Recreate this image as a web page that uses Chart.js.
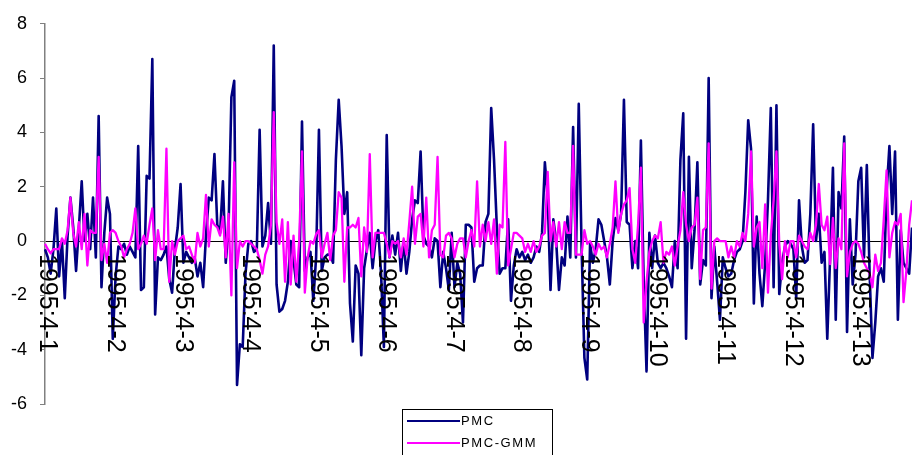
<!DOCTYPE html>
<html>
<head>
<meta charset="utf-8">
<script src="https://cdn.jsdelivr.net/npm/chart.js@4"></script>
<style>
  html, body { margin: 0; padding: 0; background: #fff; }
  canvas { display: block; }
</style>
</head>
<body>
<canvas id="chart" width="912" height="455"></canvas>
<script>
// day labels on the category axis, one every 24 points
const days = ["1995:4-1", "1995:4-2", "1995:4-3", "1995:4-4", "1995:4-5", "1995:4-6", "1995:4-7",
	"1995:4-8", "1995:4-9", "1995:4-10", "1995:4-11", "1995:4-12", "1995:4-13"];
const pointsPerDay = 24;
const yTicks = [-6, -4, -2, 0, 2, 4, 6, 8];

const pmc = [
	-0.3, -0.6, -1.2, -0.3, 1.2, -1.3, 0.0, -2.1, 0.2, 1.6, 0.5, -1.1, 0.5, 2.2, 0.0, 1.0, -0.3, 1.6, -0.6, 4.6, -1.7, 0.3, 1.6, 1.0,
	-3.6, -1.3, -0.2, -0.3, -0.1, -0.5, -0.2, -0.4, -0.6, 3.5, -1.8, -1.7, 2.4, 2.3, 6.7, -2.7, -0.6, -0.7, -0.5, -0.2, -1.4, -1.9, -0.3, 0.5,
	2.1, -0.8, -0.4, -0.6, -0.8, -0.6, -1.3, -0.8, -1.7, 0.2, 1.6, 1.5, 3.2, 0.6, 0.3, 2.2, -0.8, 0.5, 5.3, 5.9, -5.3, -3.8, -3.9, -1.2,
	-0.1, 0.0, -0.4, -0.3, 4.1, -0.2, 0.2, 1.4, -0.1, 7.2, -1.6, -2.6, -2.5, -2.2, -1.5, 0.0, -0.7, -1.6, -1.7, 4.4, -1.1, -0.6, -0.4, -2.2,
	-0.6, 4.1, -1.1, -0.6, -0.5, -0.5, -0.8, 3.0, 5.2, 3.5, 1.0, 1.8, -2.3, -3.7, -0.9, -1.2, -4.2, -1.0, -0.3, 0.3, -1.0, 0.0, 0.4, -1.2,
	-3.9, 3.9, -0.6, 0.2, -0.5, 0.3, -1.1, 0.0, -1.2, -0.4, 0.8, 1.5, 1.4, 3.3, 0.2, -0.1, -0.2, -0.6, 0.1, 0.0, -1.7, -0.4, -1.0, -1.8,
	0.3, -1.7, -0.8, -1.2, -3.0, 0.6, 0.6, 0.5, -1.5, -1.0, -0.9, -0.9, 0.7, 1.0, 4.9, 3.0, 0.5, -1.2, -1.0, -1.0, 0.8, -2.2, -0.9, -0.3,
	-0.6, -0.4, -0.7, -0.5, -0.8, -0.6, -0.2, -0.4, 0.3, 2.9, 1.6, -1.8, 0.8, 0.0, -1.8, -0.6, -0.9, 0.9, -0.6, 4.2, -0.6, 5.05, -0.2, -4.3,
	-5.1, -0.1, -0.8, -0.3, 0.8, 0.6, 0.0, -0.6, -1.6, 0.0, 0.85, 0.4, 1.0, 5.2, 0.7, 0.6, -1.0, 0.0, -1.0, 3.7, -1.5, -4.8, 0.3, -1.0,
	0.2, -0.8, -1.0, -0.8, -1.0, -1.3, -1.7, 0.0, -1.0, 3.0, 4.7, -3.6, 3.1, -1.0, 0.4, 2.9, -1.6, -0.7, -0.9, 6.0, -2.1, -0.2, -1.5, -2.9,
	-0.6, -1.0, -1.3, -1.2, -0.7, -0.4, -0.3, 0.0, 1.8, 4.45, 3.4, -2.3, 0.9, -1.2, -2.4, -0.8, 1.5, 4.9, -1.7, 5.0, -1.95, -0.8, -0.2, 0.0,
	-0.1, -0.3, -2.1, 1.5, -0.2, -0.8, -0.7, 1.0, 4.3, 0.0, 1.0, -0.8, -0.4, -3.6, -0.6, 2.7, -2.9, 1.8, 1.2, 3.85, -3.35, 0.8, -1.6, -0.5,
	2.2, 2.7, -0.6, 2.8, -1.2, -4.3, -3.0, -1.3, -1.0, -1.5, 1.8, 3.5, 1.0, 3.3, -2.9, 0.4, -0.8, -1.0, -1.2, 0.5
];

const pmcGmm = [
	-0.1, -0.3, -0.45, -0.3, -0.3, -0.3, 0.1, -0.1, 0.4, 1.6, 0.3, -0.2, 0.7, -0.3, 1.0, -0.9, 0.4, 0.3, 0.3, 3.1, -0.7, -0.1, -0.8, 0.3,
	0.4, 0.3, 0.0, -0.2, -0.6, -0.3, -0.1, 0.3, 1.2, -0.3, -0.1, 0.2, -0.1, 0.6, 1.2, -0.7, 0.4, -0.3, -0.3, 3.4, -1.5, 0.0, -0.5, 0.0,
	0.1, 0.2, -0.3, -0.2, -0.5, -0.8, 0.3, -0.2, 0.1, 1.7, -0.2, 0.8, 0.6, 0.5, 0.2, 0.9, -0.6, 1.0, -2.0, 2.9, -1.0, 0.0, -0.2, 0.0,
	0.0, -0.1, -0.2, -0.3, -0.7, -1.2, -0.5, -0.2, 0.6, 4.75, 0.7, -0.1, 0.8, -1.5, 0.7, -1.6, 0.2, -1.5, 0.0, 3.3, -1.9, -0.6, 0.0, -0.1,
	0.25, 0.4, -0.6, -0.1, 0.3, -0.7, 0.2, 0.4, 1.8, 1.6, -1.5, 0.5, 0.5, 0.6, 0.5, 0.85, -1.3, 0.5, -0.4, 3.2, -0.6, 0.3, 0.3, 0.3,
	0.3, -0.1, -0.6, 0.0, -0.1, 0.0, -0.6, 0.1, -0.5, 0.7, 2.0, -0.1, 0.9, 1.0, -0.2, 1.6, -0.6, 0.4, 0.6, 3.1, -0.5, -0.6, 0.2, 0.3,
	0.1, -0.6, -0.1, 0.1, 0.1, -0.6, 0.0, 0.4, -0.2, 2.2, -0.2, 0.6, 0.0, 0.7, -0.1, 0.8, -1.2, 0.6, 0.5, 3.65, -0.9, -0.3, 0.3, 0.3,
	0.2, 0.1, -0.4, -0.1, -0.4, 0.0, -0.4, -0.2, 0.2, 0.3, 2.55, 0.0, 0.7, -0.2, 0.7, -0.3, 0.7, 0.3, 0.3, 3.5, -0.5, -0.5, -0.5, 0.4,
	-0.1, 0.0, -0.2, -0.5, -0.1, -0.3, -0.2, -0.6, -0.1, 0.5, 2.2, 0.3, 1.0, 1.35, 1.5, 1.95, -0.3, -0.8, 0.6, 2.7, -3.0, -1.5, -0.4, 0.0,
	0.2, 0.1, 0.7, -0.8, -0.4, -0.5, -0.2, -0.9, -0.2, 0.4, 1.8, 0.6, 0.0, 0.5, 0.6, 1.6, -1.4, 0.4, 0.5, 3.6, -1.75, 0.0, 0.1, 0.0,
	0.0, 0.0, -0.6, -0.2, -0.6, 0.0, -0.2, 0.3, 0.0, 1.0, 3.3, -0.2, 0.5, 0.7, -1.0, 1.35, -1.9, 0.2, 1.5, 3.3, -0.1, -1.4, 0.0, -0.6,
	0.0, 0.0, -0.6, 0.2, 0.0, -0.2, -0.3, 0.3, 0.0, 0.6, 2.1, 0.6, 0.4, 0.9, -0.85, 0.85, -1.0, 0.1, -0.3, 3.6, -1.3, -0.4, -0.1, 0.0,
	-0.1, -0.4, -0.8, -1.0, -1.2, -1.7, -0.5, -1.1, -0.8, 0.8, 2.6, -0.6, 0.3, 0.7, 0.6, 1.0, -2.25, -1.1, 0.6, 1.5
];

const labels = pmc.map((_, i) => (i % pointsPerDay === 0 ? days[i / pointsPerDay] : ""));

// rotated day labels hanging under the zero line
const dayLabels = {
	id: "dayLabels",
	afterDatasetsDraw(chart) {
		const { ctx, scales: { x, y } } = chart;
		const zeroY = y.getPixelForValue(0);
		ctx.save();
		ctx.font = "25px 'Liberation Sans', Arial, sans-serif";
		ctx.fillStyle = "#000";
		ctx.textAlign = "left";
		ctx.textBaseline = "alphabetic";
		chart.data.labels.forEach((lab, i) => {
			if (!lab) return;
			ctx.save();
			ctx.translate(x.getPixelForValue(i) - 5, zeroY + 13);
			ctx.rotate(Math.PI / 2);
			ctx.fillText(lab, 0, 0);
			ctx.restore();
		});
		ctx.restore();
	},
};

// boxed legend below the plot, cut by the bottom edge
const boxLegend = {
	id: "boxLegend",
	afterDraw(chart) {
		const { ctx } = chart;
		ctx.save();
		ctx.strokeStyle = "#000";
		ctx.lineWidth = 1;
		ctx.strokeRect(402.5, 409.5, 150, 50);
		ctx.font = "13px 'Liberation Sans', Arial, sans-serif";
		ctx.letterSpacing = "1.6px";
		ctx.textBaseline = "middle";
		ctx.fillStyle = "#000";
		chart.data.datasets.forEach((ds, i) => {
			const yy = 421 + i * 22;
			ctx.strokeStyle = ds.borderColor;
			ctx.lineWidth = 2;
			ctx.beginPath();
			ctx.moveTo(407, yy);
			ctx.lineTo(460, yy);
			ctx.stroke();
			ctx.fillText(ds.label, 461, yy);
		});
		ctx.restore();
	},
};

new Chart(document.getElementById("chart").getContext("2d"), {
	type: "line",
	data: {
		labels: labels,
		datasets: [
			{
				label: "PMC",
				data: pmc,
				borderColor: "#000080",
				borderWidth: 2.6,
				order: 1,
			},
			{
				label: "PMC-GMM",
				data: pmcGmm,
				borderColor: "#FF00FF",
				borderWidth: 2.3,
				order: 0,
			},
		],
	},
	options: {
		responsive: false,
		animation: false,
		devicePixelRatio: 1,
		layout: { padding: { top: 21, bottom: 51, left: 0, right: 0 } },
		elements: {
			point: { radius: 0 },
			line: { tension: 0, borderJoinStyle: "round", fill: false },
		},
		scales: {
			x: {
				display: false,
				offset: false,
			},
			y: {
				min: -6,
				max: 8,
				afterFit: (scale) => {
					scale.width = 45;
				},
				afterBuildTicks: (scale) => {
					scale.ticks = yTicks.map((v) => ({ value: v }));
				},
				border: { color: "#808080", width: 1.5 },
				grid: {
					drawTicks: true,
					tickLength: 5,
					tickColor: "#808080",
					color: (c) => (c.tick && c.tick.value === 0 ? "#000" : "rgba(0,0,0,0)"),
					lineWidth: 1,
				},
				ticks: {
					color: "#000",
					padding: 13,
					font: { family: "'Liberation Sans', Arial, sans-serif", size: 18 },
				},
			},
		},
		plugins: {
			legend: { display: false },
			tooltip: { enabled: false },
		},
	},
	plugins: [dayLabels, boxLegend],
});
</script>
</body>
</html>
